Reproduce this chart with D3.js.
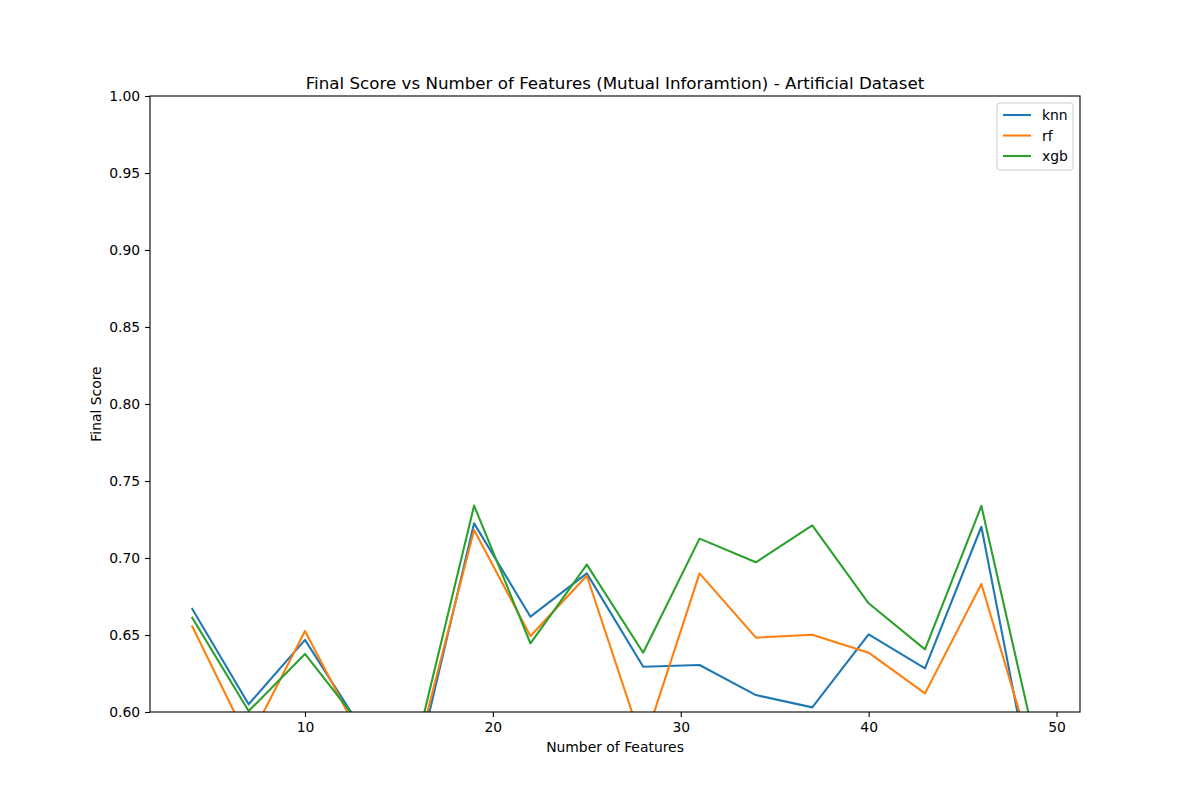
<!DOCTYPE html>
<html lang="en">
<head>
<meta charset="utf-8">
<title>Final Score vs Number of Features</title>
<style>
  body { margin: 0; background: #fff; }
  svg { font-family: "DejaVu Sans", sans-serif; }
</style>
</head>
<body>
<svg id="chart" width="1200" height="800"></svg>
<script src="https://d3js.org/d3.v7.min.js"></script>
<script>
const features = [4, 7, 10, 13, 16, 19, 22, 25, 28, 31, 34, 37, 40, 43, 46, 49];
const knn = [0.6669, 0.605, 0.6468, 0.5895, 0.5678, 0.7225, 0.6619, 0.690, 0.6294, 0.6305, 0.611, 0.603, 0.6504, 0.6283, 0.7203, 0.532];
const rf  = [0.6556, 0.581, 0.6526, 0.5826, 0.5755, 0.7182, 0.6494, 0.6885, 0.578, 0.690, 0.6483, 0.6502, 0.6385, 0.6121, 0.6831, 0.560];
const xgb = [0.6612, 0.6006, 0.6377, 0.591, 0.582, 0.734, 0.6446, 0.6957, 0.6385, 0.7126, 0.6972, 0.7212, 0.6706, 0.6407, 0.7338, 0.573];
const seriesNames = ["knn", "rf", "xgb"];
const xTicks = [10, 20, 30, 40, 50];
const yTicks = [0.60, 0.65, 0.70, 0.75, 0.80, 0.85, 0.90, 0.95, 1.00];

const colors = ["#1f77b4", "#ff7f0e", "#2ca02c"];
const allSeries = [knn, rf, xgb];

const plotLeft = 150, plotRight = 1080, plotTop = 96, plotBottom = 712;
const svg = d3.select("#chart");

const pad = (d3.max(features) - d3.min(features)) * 0.05;
const x = d3.scaleLinear()
  .domain([d3.min(features) - pad, d3.max(features) + pad])
  .range([plotLeft, plotRight]);
const y = d3.scaleLinear().domain([0.6, 1.0]).range([plotBottom, plotTop]);

svg.append("clipPath").attr("id", "clip")
  .append("rect")
  .attr("x", plotLeft).attr("y", plotTop)
  .attr("width", plotRight - plotLeft).attr("height", plotBottom - plotTop);

// lines
const line = d3.line()
  .x((d, i) => x(features[i]))
  .y(d => y(d));

svg.append("g").attr("clip-path", "url(#clip)")
  .selectAll("path")
  .data(allSeries)
  .enter()
  .append("path")
  .attr("d", line)
  .attr("fill", "none")
  .attr("stroke", (d, i) => colors[i])
  .attr("stroke-width", 2.1)
  .attr("stroke-linejoin", "round")
  .attr("stroke-linecap", "square");

// axes
const xAxis = d3.axisBottom(x).tickValues(xTicks).tickSize(4.9).tickPadding(4.9).tickFormat(d3.format("d"));
const yAxis = d3.axisLeft(y).tickValues(yTicks).tickSize(4.9).tickPadding(4.9).tickFormat(d3.format(".2f"));

const gx = svg.append("g").attr("transform", `translate(0,${plotBottom})`).call(xAxis);
const gy = svg.append("g").attr("transform", `translate(${plotLeft},0)`).call(yAxis);
[gx, gy].forEach(g => {
  g.select(".domain").remove();
  g.selectAll(".tick line").attr("stroke", "#000").attr("stroke-width", 1.1);
  g.selectAll(".tick text").attr("fill", "#000").style("font-size", "13.9px").style("font-family", "DejaVu Sans");
});

// frame
svg.append("rect")
  .attr("x", plotLeft).attr("y", plotTop)
  .attr("width", plotRight - plotLeft).attr("height", plotBottom - plotTop)
  .attr("fill", "none").attr("stroke", "#000").attr("stroke-width", 1.1);

// title and labels
svg.append("text")
  .attr("x", (plotLeft + plotRight) / 2).attr("y", 89)
  .attr("text-anchor", "middle")
  .style("font-size", "16.7px")
  .text("Final Score vs Number of Features (Mutual Inforamtion) - Artificial Dataset");

svg.append("text")
  .attr("x", (plotLeft + plotRight) / 2).attr("y", 752)
  .attr("text-anchor", "middle")
  .style("font-size", "13.9px")
  .text("Number of Features");

svg.append("text")
  .attr("transform", `translate(101,${(plotTop + plotBottom) / 2}) rotate(-90)`)
  .attr("text-anchor", "middle")
  .style("font-size", "13.9px")
  .text("Final Score");

// legend
const legend = svg.append("g").attr("transform", "translate(997,103)");
legend.append("rect")
  .attr("width", 76).attr("height", 67)
  .attr("rx", 3)
  .attr("fill", "#fff").attr("fill-opacity", 0.8)
  .attr("stroke", "#ccc").attr("stroke-width", 1);

seriesNames.forEach((name, i) => {
  const ly = 12 + i * 20.5;
  legend.append("line")
    .attr("x1", 6).attr("x2", 34)
    .attr("y1", ly).attr("y2", ly)
    .attr("stroke", colors[i]).attr("stroke-width", 2.1);
  legend.append("text")
    .attr("x", 45).attr("y", ly + 5)
    .style("font-size", "13.9px")
    .text(name);
});
</script>
</body>
</html>
